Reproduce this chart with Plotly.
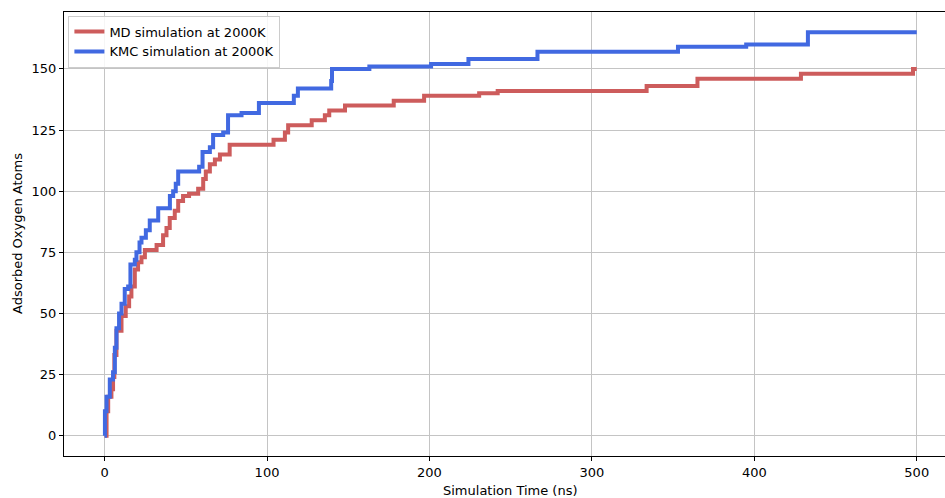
import plotly.graph_objects as go

# Oxygen uptake over time (step series: time in ns, cumulative adsorbed atoms)
md_time = [0, 1.2, 2.2, 4.2, 5.2, 6.0, 7.3, 10.4, 13.0, 15.1, 16.5, 18.6, 20.6, 22.7,
           24.8, 32.0, 36.0, 38.1, 40.1, 43.2, 45.3, 48.3, 52.0, 57.6, 60.7, 62.3,
           64.8, 67.9, 71.0, 77.0, 104.0, 111.0, 113.0, 127.5, 135.6, 138.3, 148.0,
           178.0, 196.7, 230.6, 242.0, 333.7, 365.0, 428.7, 497.7, 500.0]
md_atoms = [0, 10, 16, 19, 24, 33, 43, 49, 53, 57, 61, 68, 71, 73,
            76, 78, 82, 85, 89, 92, 96, 98, 99, 101, 105, 108,
            111, 113, 115, 119, 121, 124, 127, 129, 131, 133, 135,
            137, 139, 140, 141, 143, 146, 148, 150, 150]

kmc_time = [0, 0.2, 1.2, 3.2, 5.2, 6.3, 7.3, 8.9, 10.4, 12.4, 14.5, 15.9, 18.6, 19.6,
            21.5, 22.7, 25.4, 27.8, 33.0, 40.2, 42.2, 43.8, 45.3, 58.2, 60.3, 64.8,
            66.8, 73.0, 76.0, 84.3, 95.0, 116.5, 119.0, 139.5, 140.0, 163.0, 201.0,
            224.0, 266.5, 353.0, 395.0, 433.0, 500.0]
kmc_atoms = [0, 10, 16, 23, 26, 36, 44, 50, 54, 60, 61, 70, 72, 75,
             79, 81, 84, 88, 93, 98, 100, 103, 108, 110, 116, 118,
             123, 124, 131, 132, 136, 139, 142, 145, 150, 151, 152,
             154, 157, 159, 160, 165, 165]

x_ticks = [0, 100, 200, 300, 400, 500]
y_ticks = [0, 25, 50, 75, 100, 125, 150]

FONT = "DejaVu Sans"
FS = 13

fig = go.Figure()
fig.add_trace(go.Scatter(
    x=md_time, y=md_atoms, mode="lines", line_shape="hv",
    name="MD simulation at 2000K",
    line=dict(color="#CD5C5C", width=4),
))
fig.add_trace(go.Scatter(
    x=kmc_time, y=kmc_atoms, mode="lines", line_shape="hv",
    name="KMC simulation at 2000K",
    line=dict(color="#4169E1", width=4),
))

axis_common = dict(
    showgrid=True, gridcolor="#c4c4c4", gridwidth=1,
    zeroline=False, showline=True, linecolor="black", linewidth=1,
    ticks="outside", ticklen=4, tickwidth=1, tickcolor="black",
    tickfont=dict(family=FONT, size=FS, color="black"),
)

fig.update_layout(
    width=945, height=498,
    margin=dict(l=64, r=0, t=12, b=42),
    paper_bgcolor="white", plot_bgcolor="white",
    font=dict(family=FONT, size=FS, color="black"),
    xaxis=dict(range=[-25, 517.4], tickvals=x_ticks, mirror=True, **axis_common),
    yaxis=dict(range=[-8.25, 173.25], tickvals=y_ticks, mirror=False, **axis_common),
    legend=dict(
        x=0.005, y=0.992, xanchor="left", yanchor="top",
        bgcolor="rgba(255,255,255,0.85)", bordercolor="#cccccc", borderwidth=1,
        font=dict(family=FONT, size=FS, color="black"),
        tracegroupgap=0,
    ),
    showlegend=True,
    annotations=[
        dict(text="Simulation Time (ns)", xref="paper", yref="paper",
             x=0.506, y=0, xanchor="center", yanchor="middle", yshift=-34,
             showarrow=False, font=dict(family=FONT, size=FS, color="black")),
        dict(text="Adsorbed Oxygen Atoms", xref="paper", yref="paper",
             x=0, y=0.5, xanchor="center", yanchor="middle", xshift=-47,
             textangle=-90, showarrow=False,
             font=dict(family=FONT, size=FS, color="black")),
    ],
)

fig.write_html("out.html")
